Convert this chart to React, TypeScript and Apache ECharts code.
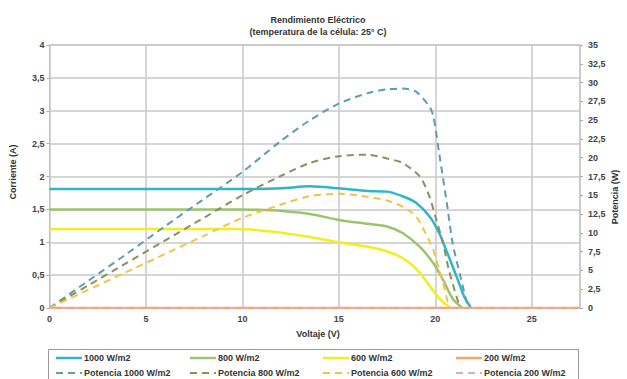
import React, { useEffect, useRef } from "react";
import * as echarts from "echarts";

const titleLines = ["Rendimiento Eléctrico", "(temperatura de la célula: 25° C)"];
const xAxisName = "Voltaje (V)";
const leftAxisName = "Corriente (A)";
const rightAxisName = "Potencia (W)";

const seriesNames = [
  "1000 W/m2",
  "800 W/m2",
  "600 W/m2",
  "200 W/m2",
  "Potencia 1000 W/m2",
  "Potencia 800 W/m2",
  "Potencia 600 W/m2",
  "Potencia 200 W/m2",
];
const seriesColors = ["#2fb6c9", "#9cc46c", "#f2ee22", "#f3a56c", "#5f9db0", "#8f8e5e", "#f2c24a", "#e6aab2"];

// I-V curves (current, A)
const voltage1000 = [0, 2, 4, 6, 8, 10, 12, 13.5, 15, 16.5, 17.5, 18.3, 19, 19.7, 20.2, 20.7, 21.1, 21.5, 21.85];
const current1000 = [1.81, 1.81, 1.81, 1.81, 1.81, 1.81, 1.82, 1.85, 1.82, 1.78, 1.77, 1.7, 1.6, 1.39, 1.14, 0.78, 0.48, 0.17, 0];
const voltage800 = [0, 2, 4, 6, 8, 10, 11.24, 11.93, 13.5, 15, 16.5, 17.5, 18.3, 19.2, 19.9, 20.4, 20.9, 21.4];
const current800 = [1.5, 1.5, 1.5, 1.5, 1.5, 1.5, 1.49, 1.48, 1.43, 1.34, 1.28, 1.24, 1.14, 0.93, 0.68, 0.43, 0.14, 0];
const voltage600 = [0, 2, 4, 6, 8, 9.7, 11.6, 13.5, 15, 16.5, 17.5, 18.3, 19, 19.5, 20, 20.4, 20.8];
const current600 = [1.2, 1.2, 1.2, 1.2, 1.2, 1.2, 1.16, 1.08, 1.0, 0.93, 0.86, 0.76, 0.6, 0.42, 0.22, 0.09, 0];
const voltage200 = [0, 27.5];
const current200 = [0, 0];

// P-V curves (power, W)
const voltageP1000 = [0, 2, 4, 6, 8, 10, 11.93, 13.5, 15, 16.5, 17.5, 18.3, 19, 19.7, 19.9, 20.2, 20.6, 20.9, 21.3, 21.7];
const power1000 = [0, 3.6, 7.2, 10.9, 14.5, 18.1, 22.1, 25.0, 27.2, 28.6, 29.1, 29.2, 28.8, 26.8, 25.5, 20.6, 13.9, 8.6, 4.2, 0];
const voltageP800 = [0, 2, 4, 6, 8, 10, 11.93, 13.5, 15, 16.5, 17.5, 18.3, 19.2, 19.7, 20, 20.4, 20.7, 21.1, 21.3];
const power800 = [0, 3, 6, 9, 12, 15, 17.5, 19.3, 20.2, 20.4, 19.9, 19.3, 17.5, 14.8, 12.2, 8.6, 5.1, 1.5, 0];
const voltageP600 = [0, 2, 4, 6, 8, 10, 11.93, 13.5, 15, 16.5, 17.5, 18.3, 19, 19.5, 19.9, 20.2, 20.5, 20.7];
const power600 = [0, 2.4, 4.8, 7.2, 9.6, 12, 13.7, 14.9, 15.2, 14.8, 14.3, 13.5, 12.2, 9.9, 7.7, 5.1, 2.4, 0];
const voltageP200 = [0, 27.5];
const power200 = [0, 0];

const xs = [voltage1000, voltage800, voltage600, voltage200, voltageP1000, voltageP800, voltageP600, voltageP200];
const ys = [current1000, current800, current600, current200, power1000, power800, power600, power200];

const FONT = "Liberation Sans";

export default function App() {
  const ref = useRef<HTMLDivElement>(null);
  useEffect(() => {
    if (!ref.current) return;
    const chart = echarts.init(ref.current, undefined, { renderer: "svg" });
    const comma = (v: number) => String(v).replace(".", ",");
    const labelStyle = { fontFamily: FONT, fontSize: 9, fontWeight: "bold" as const, color: "#444" };

    const series = seriesNames.map((name, i) => {
      const dashed = i >= 4;
      return {
        name,
        type: "line",
        yAxisIndex: dashed ? 1 : 0,
        data: xs[i].map((v, k) => [v, ys[i][k]]),
        showSymbol: false,
        smooth: 0.25,
        lineStyle: { color: seriesColors[i], width: dashed ? 2 : 2.5, type: dashed ? [7, 5] : "solid" },
        itemStyle: { color: seriesColors[i] },
        z: dashed ? 3 : 2,
      };
    });

    const colX = [56, 190, 323, 456];
    const rowY = [358, 373];
    const legendGraphics: any[] = [
      {
        type: "rect",
        shape: { x: 48.5, y: 349.5, width: 530, height: 40 },
        style: { fill: "#fff", stroke: "#999", lineWidth: 1 },
      },
    ];
    seriesNames.forEach((name, i) => {
      const col = i % 4;
      const row = Math.floor(i / 4);
      const x0 = colX[col];
      const y0 = rowY[row];
      legendGraphics.push({
        type: "line",
        shape: { x1: x0, y1: y0, x2: x0 + 26, y2: y0 },
        style: {
          stroke: seriesColors[i],
          lineWidth: row === 1 ? 2 : 2.5,
          lineDash: row === 1 ? [7, 5] : undefined,
        },
      });
      legendGraphics.push({
        type: "text",
        x: x0 + 28,
        y: y0,
        style: { text: name, fill: "#333", font: `bold 9px "${FONT}"`, textVerticalAlign: "middle" },
      });
    });

    chart.setOption({
      animation: false,
      backgroundColor: "#fff",
      grid: { left: 49.5, right: 47, top: 45, bottom: 71, show: true, borderColor: "#aaa", borderWidth: 1 },
      xAxis: {
        type: "value",
        min: 0,
        max: 27.5,
        interval: 5,
        axisLine: { show: false },
        axisTick: { show: false },
        axisLabel: {
          ...labelStyle,
          margin: 6,
          formatter: (v: number) => (v % 5 === 0 ? comma(v) : ""),
        },
        splitLine: { show: true, lineStyle: { color: "#c8c8c8", width: 1.5 } },
      },
      yAxis: [
        {
          type: "value",
          min: 0,
          max: 4,
          interval: 0.5,
          axisLine: { show: false },
          axisTick: { show: true, length: 3, lineStyle: { color: "#aaa" } },
          axisLabel: { ...labelStyle, margin: 5, formatter: comma },
          splitLine: { show: true, lineStyle: { color: "#c8c8c8", width: 1.5 } },
        },
        {
          type: "value",
          min: 0,
          max: 35,
          interval: 2.5,
          position: "right",
          axisLine: { show: false },
          axisTick: { show: true, length: 3, lineStyle: { color: "#aaa" } },
          axisLabel: { ...labelStyle, margin: 8, formatter: comma },
          splitLine: { show: false },
        },
      ],
      series,
      graphic: [
        {
          type: "text",
          x: 318,
          y: 20,
          style: { text: titleLines[0], fill: "#333", font: `bold 9px "${FONT}"`, textAlign: "center", textVerticalAlign: "middle" },
        },
        {
          type: "text",
          x: 318,
          y: 32,
          style: { text: titleLines[1], fill: "#333", font: `bold 9px "${FONT}"`, textAlign: "center", textVerticalAlign: "middle" },
        },
        {
          type: "text",
          x: 318,
          y: 334,
          style: { text: xAxisName, fill: "#333", font: `bold 9px "${FONT}"`, textAlign: "center", textVerticalAlign: "middle" },
        },
        {
          type: "text",
          x: 13,
          y: 172,
          rotation: Math.PI / 2,
          style: { text: leftAxisName, fill: "#333", font: `bold 9px "${FONT}"`, textAlign: "center", textVerticalAlign: "middle" },
        },
        {
          type: "text",
          x: 615,
          y: 197,
          rotation: Math.PI / 2,
          style: { text: rightAxisName, fill: "#333", font: `bold 9px "${FONT}"`, textAlign: "center", textVerticalAlign: "middle" },
        },
        ...legendGraphics,
      ],
    });
    return () => chart.dispose();
  }, []);
  return <div ref={ref} style={{ width: 627, height: 379, position: "absolute", left: 0, top: 0 }} />;
}
